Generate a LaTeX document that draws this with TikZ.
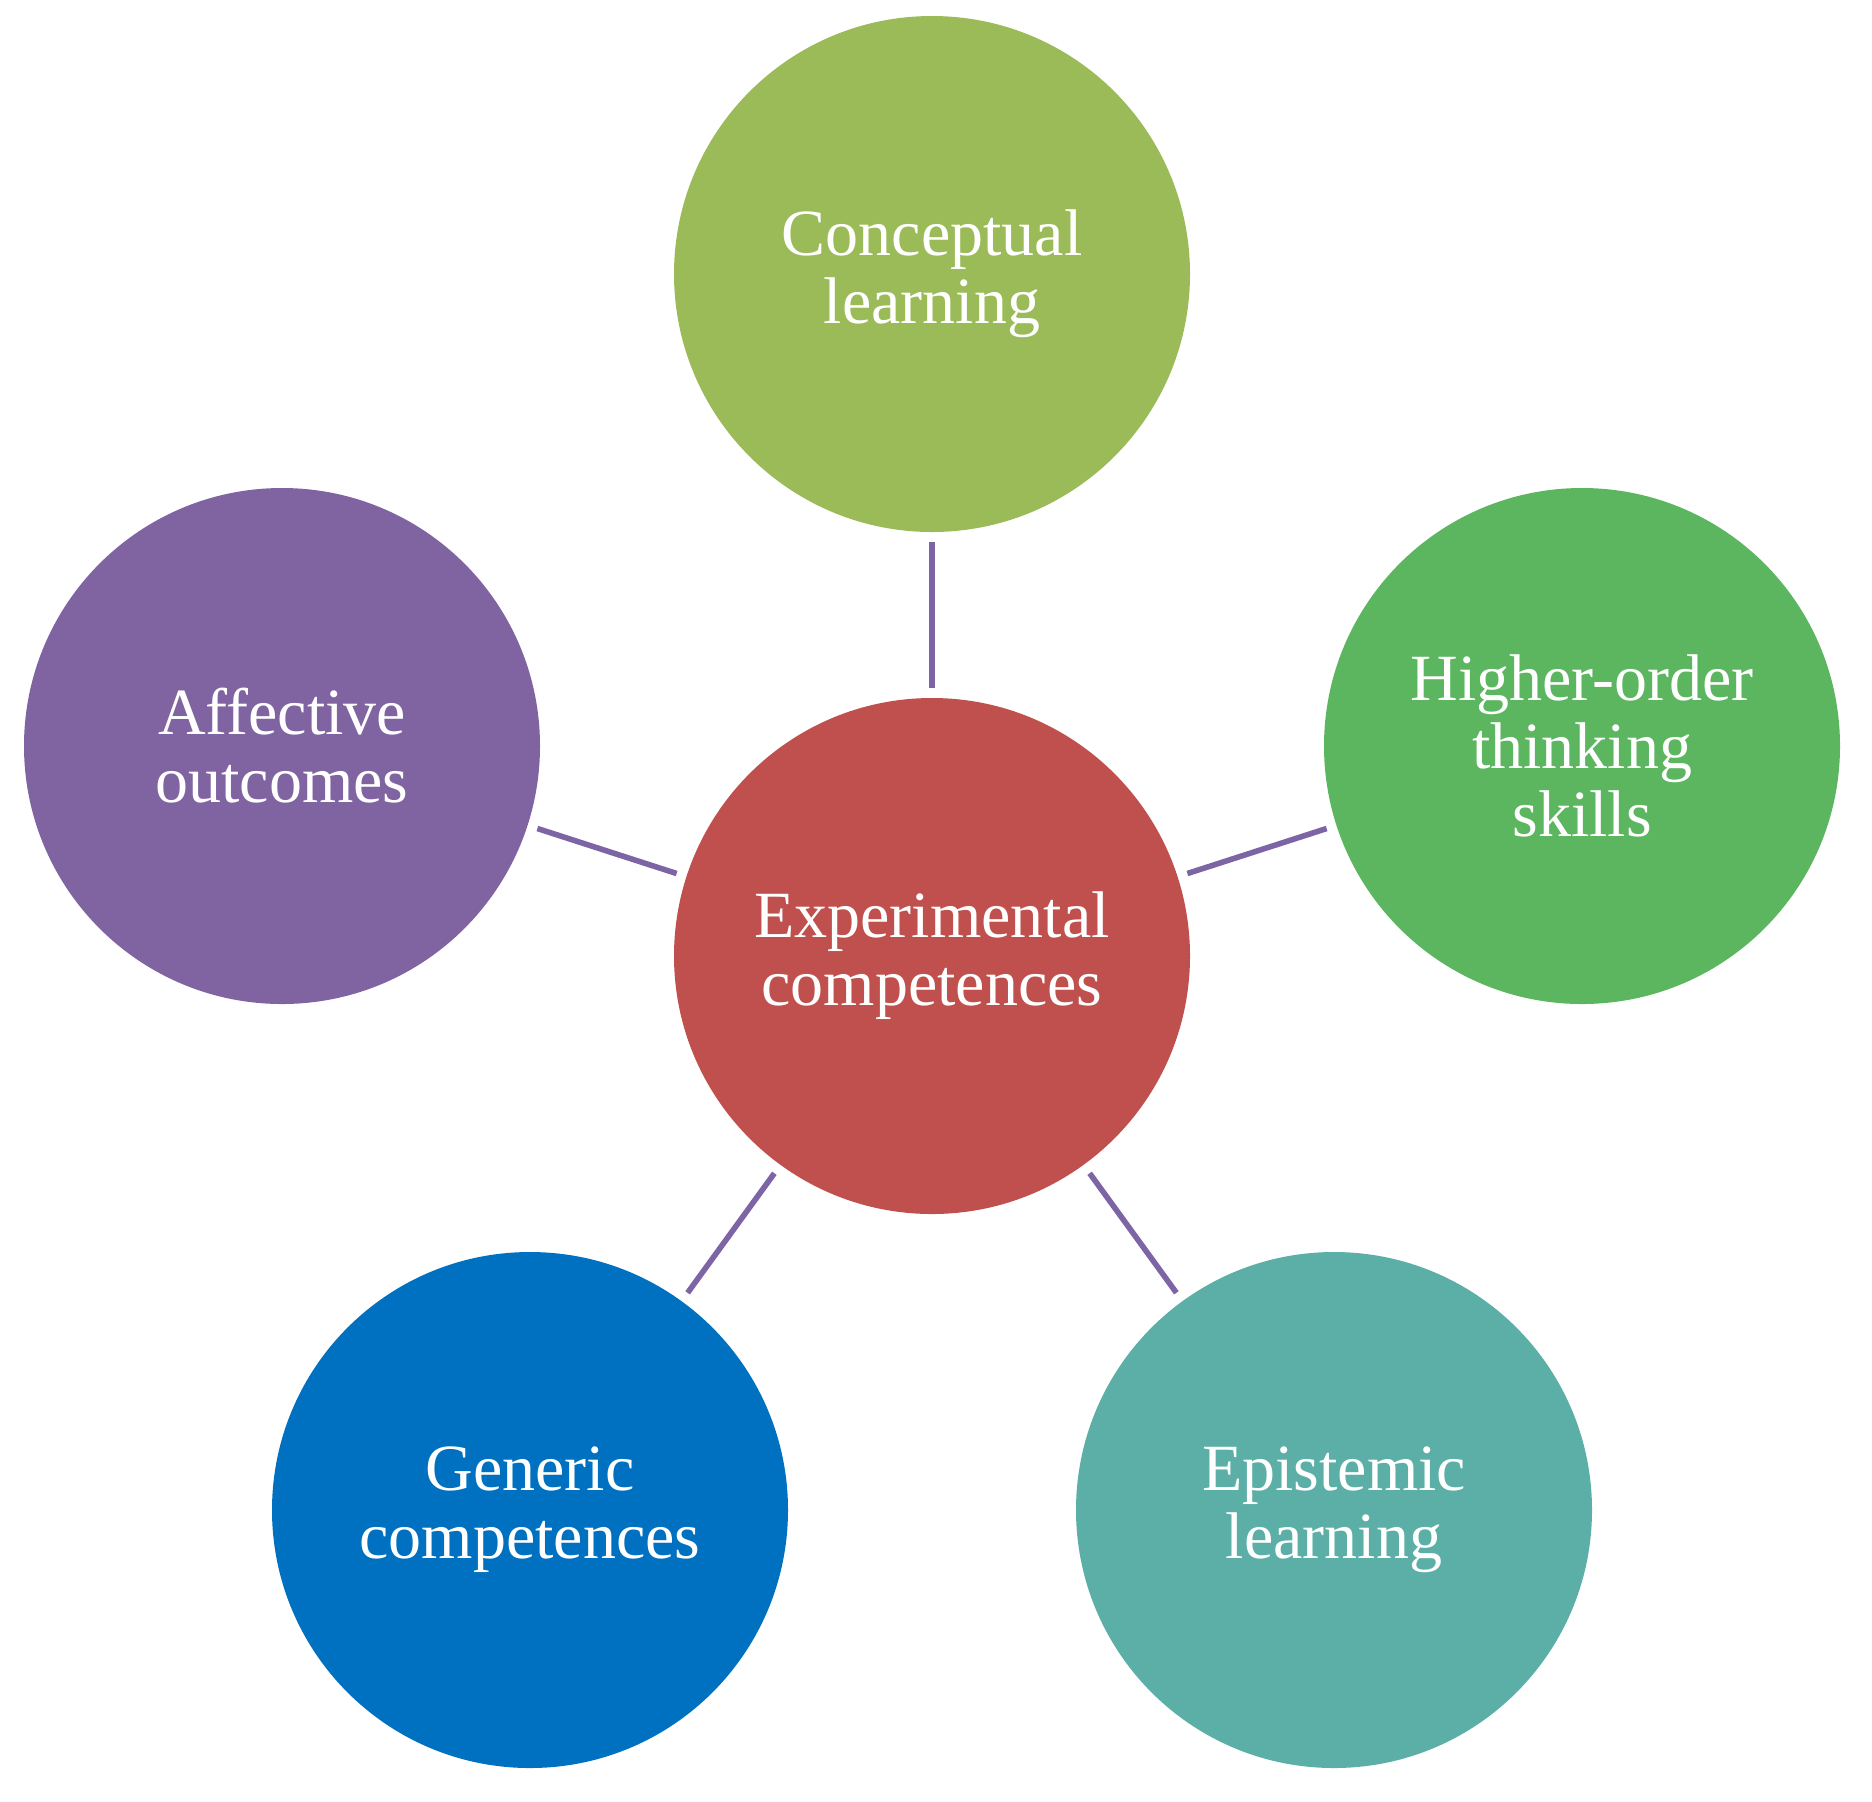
\documentclass[tikz,border=0pt]{standalone}
\usepackage{fontspec}
\setmainfont{Liberation Serif}
\definecolor{cgreen}{HTML}{9BBB59}
\definecolor{cgreenb}{HTML}{5CB660}
\definecolor{cteal}{HTML}{5BAFA6}
\definecolor{cblue}{HTML}{0070C0}
\definecolor{cpurple}{HTML}{8064A2}
\definecolor{cred}{HTML}{C0504D}
\definecolor{cline}{RGB}{125,100,165}
\begin{document}
\begin{tikzpicture}[x=0.5pt,y=-0.5pt,
  bubble/.style={circle,minimum size=258pt,inner sep=0pt,text=white,align=center,
    font=\fontsize{33}{34}\selectfont},
  spoke/.style={draw=cline,line width=2.8pt,shorten >=5pt,shorten <=5pt}]
\useasboundingbox (0,0) rectangle (1872,1801);
\node[bubble,fill=cred] (c) at (932,956) {Experimental\\competences};
\node[bubble,fill=cgreen] (t) at (932,274) {Conceptual\\learning};
\node[bubble,fill=cgreenb] (r) at (1582,746) {Higher-order\\thinking\\skills};
\node[bubble,fill=cteal] (br) at (1334,1510) {Epistemic\\learning};
\node[bubble,fill=cblue] (bl) at (530,1510) {Generic\\competences};
\node[bubble,fill=cpurple] (l) at (282,746) {Affective\\outcomes};
\draw[spoke] (c) -- (t);
\draw[spoke] (c) -- (r);
\draw[spoke] (c) -- (br);
\draw[spoke] (c) -- (bl);
\draw[spoke] (c) -- (l);
\end{tikzpicture}
\end{document}
